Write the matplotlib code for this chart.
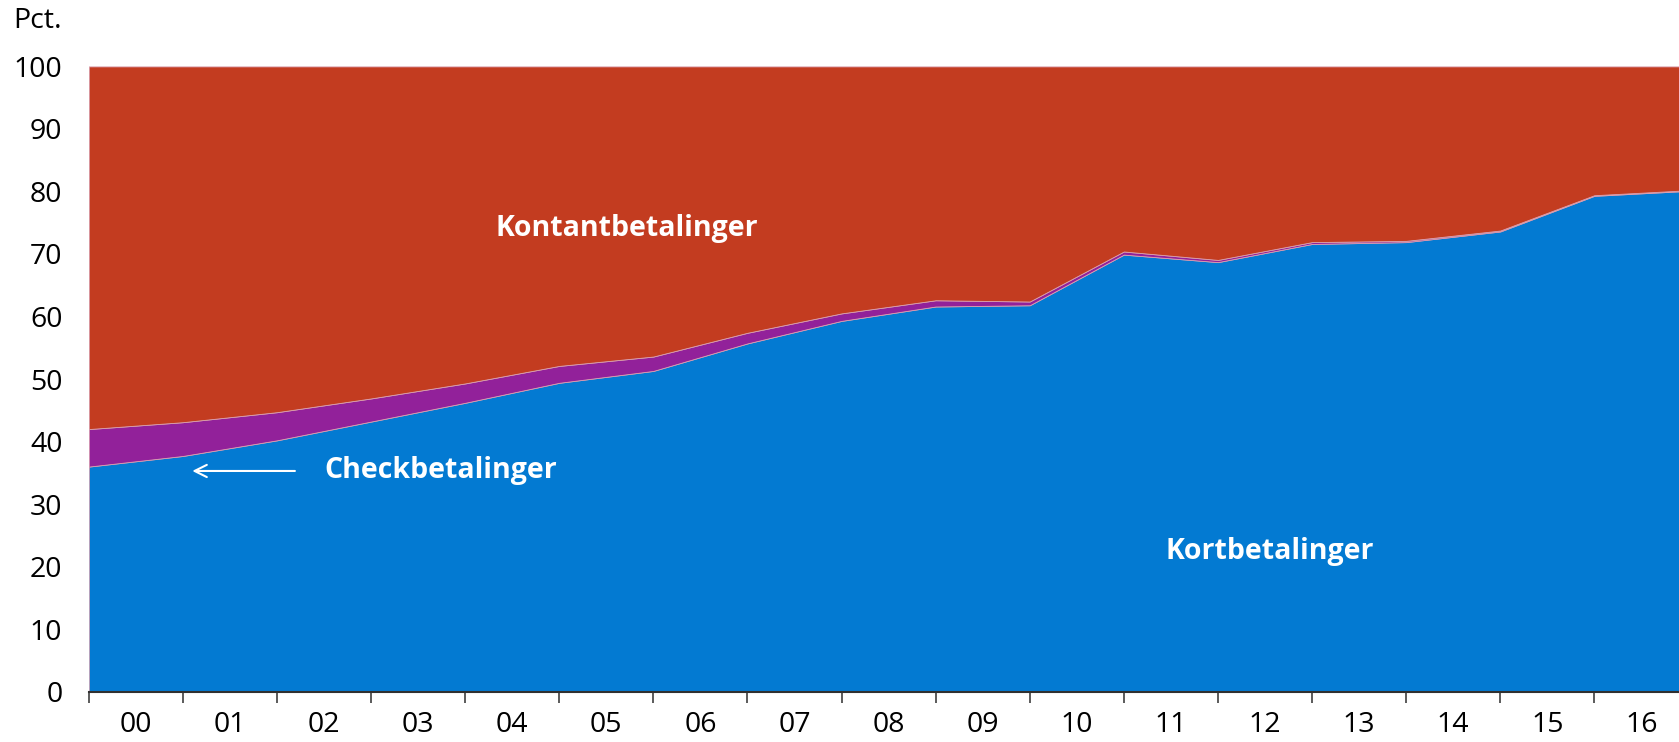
import numpy as np
import matplotlib.pyplot as plt

plt.rcParams['font.family'] = ['Open Sans', 'DejaVu Sans']

# Data (share of payments, pct.)
years = ['00', '01', '02', '03', '04', '05', '06', '07', '08', '09',
         '10', '11', '12', '13', '14', '15', '16']
kort = [36.0, 37.7, 40.2, 43.2, 46.2, 49.4, 51.3, 55.7, 59.3, 61.6,
        61.8, 69.9, 68.7, 71.6, 71.9, 73.6, 79.3, 80.1]
check = [6.0, 5.4, 4.5, 3.7, 3.1, 2.7, 2.3, 1.7, 1.2, 1.0,
         0.6, 0.5, 0.35, 0.3, 0.2, 0.15, 0.1, 0.1]
kontant = [100 - k - c for k, c in zip(kort, check)]

blue = '#037AD2'
purple = '#92219A'
red = '#C33C20'

x = np.arange(len(kort))

fig = plt.figure(figsize=(16.79, 7.42), dpi=100)
ax = fig.add_axes([0.0529, 0.0678, 0.9471, 0.8427])

ax.stackplot(x, kort, check, kontant, colors=[blue, purple, red],
             linewidth=0.6, edgecolor='#d9a0b0')

ax.set_xlim(0, 16.9)
ax.set_ylim(0, 100)

ax.set_yticks(range(0, 101, 10))
ax.tick_params(axis='y', length=0, pad=19, labelsize=20.5)

ax.set_xticks(range(17))
ax.set_xticklabels([])
ax.tick_params(axis='x', which='major', length=8, width=1.2,
               color='#404040', direction='out')
ax.set_xticks(np.arange(17) + 0.5, minor=True)
ax.set_xticklabels(years, minor=True)
ax.tick_params(axis='x', which='minor', length=0, pad=14, labelsize=20.5)

for s in ['top', 'right', 'left']:
    ax.spines[s].set_visible(False)
ax.spines['bottom'].set_color('#303030')
ax.spines['bottom'].set_linewidth(1.5)
ax.spines['bottom'].set_zorder(5)

fig.text(0.008, 0.972, 'Pct.', fontsize=20.5, ha='left', va='center')

ax.text(5.72, 74.1, 'Kontantbetalinger', color='white', fontsize=20.5,
        fontweight='bold', ha='center', va='center')
ax.text(2.5, 35.3, 'Checkbetalinger', color='white', fontsize=20.5,
        fontweight='bold', ha='left', va='center')
ax.annotate('', xy=(1.07, 35.3), xytext=(2.22, 35.3),
            arrowprops=dict(arrowstyle='->', color='white', lw=1.5,
                            mutation_scale=22))
ax.text(12.55, 22.4, 'Kortbetalinger', color='white', fontsize=20.5,
        fontweight='bold', ha='center', va='center')

plt.savefig('out.png', dpi=100)
